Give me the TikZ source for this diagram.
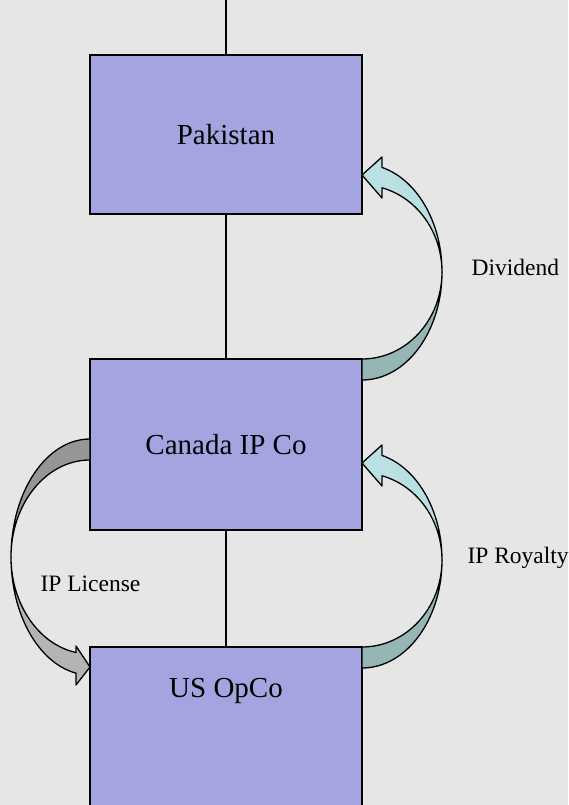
\documentclass[tikz,border=0pt]{standalone}
\usepackage{fontspec}
\setmainfont{Liberation Serif}
\usetikzlibrary{positioning}
\definecolor{paper}{HTML}{E6E6E6}
\definecolor{boxblue}{HTML}{A4A4E0}
\definecolor{flowlight}{HTML}{B9E1E4}
\definecolor{flowdark}{HTML}{96B6B6}
\definecolor{licdark}{HTML}{969696}
\definecolor{liclight}{HTML}{B4B4B4}
\tikzstyle{entity} = [draw, fill = boxblue, line width = 1.8pt, minimum width = 272pt,
    inner sep = 0pt, outer sep = 0pt, font = \fontsize{29}{34}\selectfont]
\tikzstyle{link} = [draw, line width = 1.3pt]
\tikzstyle{flow} = [draw, line width = 1.3pt, line join = round]
\tikzstyle{tag} = [anchor = base west, font = \fontsize{23.5}{28}\selectfont]

\begin{document}
\begin{tikzpicture}[x = 1pt, y = 1pt]
        \useasboundingbox (0, 0) rectangle (568, -805);
        \fill [paper] (0, 0) rectangle (568, -805);

        \coordinate (top) at (226, 0);
        \node [entity, minimum height = 159pt] (pakistan) at (226, -134.5) {Pakistan};
        \node [entity, minimum height = 171pt, below = 145pt of pakistan] (canada) {Canada IP Co};
        \node [entity, text height = 50pt, text depth = 112pt, below = 117pt of canada] (us) {US OpCo};

        \draw [link] (top) -- (pakistan.north);
        \draw [link] (pakistan.south) -- (canada.north);
        \draw [link] (canada.south) -- (us.north);

        % centres of the curved arrows
        \coordinate (divc) at ([yshift = 87pt] canada.north east);
        \coordinate (royc) at ([yshift = 87pt] us.north east);
        \coordinate (licc) at ([yshift = 90pt] us.north west);

        \foreach \C in {divc, royc}
        {
            \begin{scope}[shift = {(\C)}]
                \filldraw [flow, fill = flowdark] (0, -108)
                    arc [start angle = -90, end angle = 0, x radius = 80pt, y radius = 108pt]
                    arc [start angle = 0, end angle = -90, x radius = 80pt, y radius = 87pt] -- cycle;
                \filldraw [flow, fill = flowlight] (80, 0)
                    arc [start angle = 0, end angle = 75.5, x radius = 80pt, y radius = 108pt]
                    -- (20, 115) -- (0, 97) -- (20, 74) -- (20, 84.2)
                    arc [start angle = 75.5, end angle = 0, x radius = 80pt, y radius = 87pt] -- cycle;
            \end{scope}
        }

        \begin{scope}[shift = {(licc)}]
            \filldraw [flow, fill = licdark] (0, 118)
                arc [start angle = 90, end angle = 180, x radius = 79pt, y radius = 118pt]
                arc [start angle = 180, end angle = 90, x radius = 79pt, y radius = 97pt] -- cycle;
            \filldraw [flow, fill = liclight] (-79, 0)
                arc [start angle = 180, end angle = 259.8, x radius = 79pt, y radius = 118pt]
                -- (-14, -128) -- (0, -110) -- (-14, -89) -- (-14, -95.5)
                arc [start angle = 259.8, end angle = 180, x radius = 79pt, y radius = 97pt] -- cycle;
        \end{scope}

        \node [tag] (dividend) at ([xshift = 106pt, yshift = -3.7pt] divc) {Dividend};
        \node [tag] (royalty) at ([xshift = 102pt, yshift = -3pt] royc) {IP Royalty};
        \node [tag] (license) at ([xshift = -53pt, yshift = -34.7pt] licc) {IP License};
    \end{tikzpicture}
\end{document}
